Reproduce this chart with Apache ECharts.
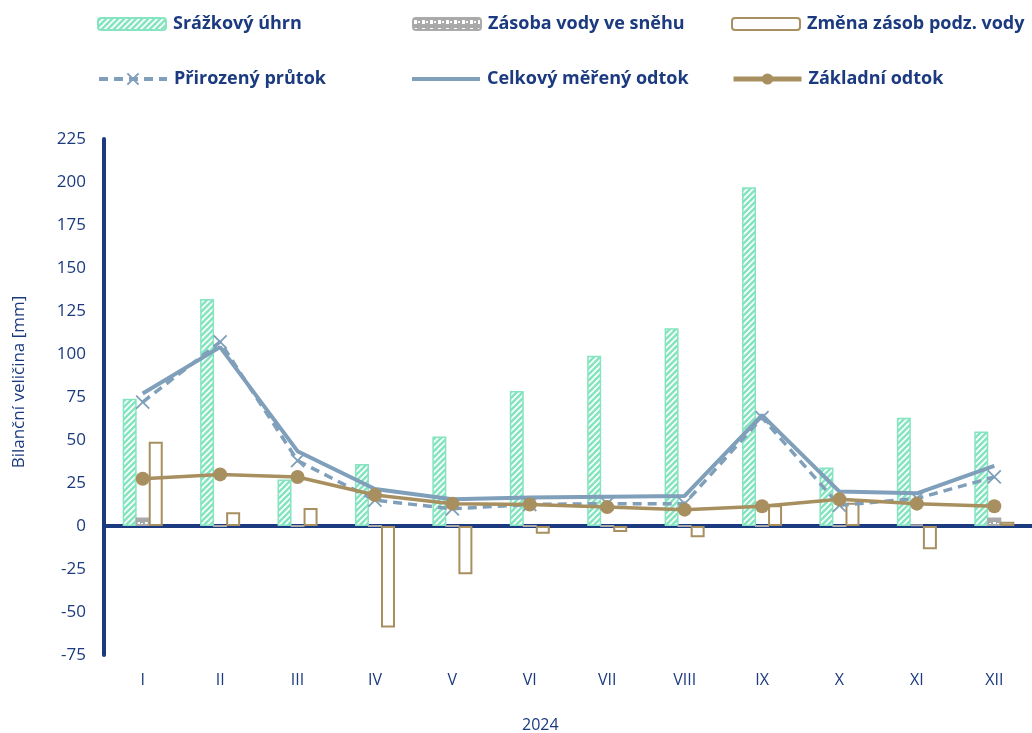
<!DOCTYPE html>
<html><head><meta charset="utf-8">
<script src="https://cdn.jsdelivr.net/npm/echarts@6/dist/echarts.min.js"></script>
<style>html,body{margin:0;padding:0;background:#fff}#c{width:1032px;height:733px}</style>
</head><body><div id="c"></div>
<script>
const categories = ['I','II','III','IV','V','VI','VII','VIII','IX','X','XI','XII'];
const precipitation = [74, 132, 27, 36, 52, 78.5, 99, 115, 197, 34, 63, 55];
const snowStorage = [5, 0, 0, 0, 0, 0, 0, 0, 0, 0, 1, 5];
const groundwaterChange = [49, 8, 10.5, -59, -28, -4.5, -3.5, -6.5, 12, 13.5, -13.5, 2.5];
const naturalFlow = [72, 107, 38, 15, 10, 12.5, 13, 13, 63, 12, 16, 28.5];
const totalRunoff = [77, 104, 43.5, 21.5, 15.5, 16.5, 17, 17.5, 64.5, 20, 19, 35];
const baseflow = [27.5, 30, 28.5, 18, 13, 12.5, 11, 9.5, 11.5, 15.5, 13, 11.5];
const yTicks = {min: -75, max: 225, interval: 25};

const NAVY = '#1b3a7f';
const MINT = '#86e4c0';
const BROWN = '#a88f5f';
const BLUE = '#7f9fba';
const FONT = '"Open Sans", "Noto Sans", sans-serif';

function hatch() {
  const c = document.createElement('canvas');
  c.width = 6; c.height = 6;
  const g = c.getContext('2d');
  g.fillStyle = MINT; g.fillRect(0,0,6,6);
  g.strokeStyle = '#ffffff'; g.lineWidth = 1.6;
  g.beginPath();
  g.moveTo(0,6); g.lineTo(6,0);
  g.moveTo(-3,3); g.lineTo(3,-3);
  g.moveTo(3,9); g.lineTo(9,3);
  g.stroke();
  return c;
}
function snowPat() {
  const c = document.createElement('canvas');
  c.width = 8; c.height = 8;
  const g = c.getContext('2d');
  g.fillStyle = '#a9a9a9'; g.fillRect(0,0,8,8);
  g.fillStyle = '#ffffff'; g.fillRect(1,2,3,4); g.fillRect(5,3,2,2);
  return c;
}
const hatchPattern = {image: hatch(), repeat: 'repeat'};
const snowPattern = {image: snowPat(), repeat: 'repeat'};

const chart = echarts.init(document.getElementById('c'), null, {renderer: 'canvas'});

function leg(item, left, top, h, lw) {
  const l = {
    data: [item], left: left, top: top, padding: 0, itemWidth: 68, itemHeight: h,
    selectedMode: false,
    textStyle: {color: NAVY, fontFamily: FONT, fontWeight: 'bold', fontSize: 18, padding: [0,0,0,2]}
  };
  if (lw) l.lineStyle = {width: lw};
  return l;
}
const xPath = 'path://M0,0L10,10M10,0L0,10';

chart.setOption({
  animation: false,
  textStyle: {fontFamily: FONT},
  legend: [
    leg('Srážkový úhrn', 97, 15, 12),
    leg('Zásoba vody ve sněhu', 412, 15, 12),
    leg('Změna zásob podz. vody', 731, 15, 12),
    leg('Přirozený průtok', 97, 70, 14, 4),
    leg({name: 'Celkový měřený odtok', icon: 'rect'}, 412, 70, 4),
    leg('Základní odtok', 731, 70, 14, 5)
  ],
  grid: {left: 104, top: 139, width: 929, height: 516, containLabel: false, outerBoundsMode: 'none'},
  xAxis: [
    {type: 'category', data: categories, axisLine: {onZero: true, lineStyle: {color: NAVY, width: 4}},
     axisTick: {show: false}, axisLabel: {show: false}},
    {type: 'category', data: categories, position: 'bottom', axisLine: {show: false, onZero: false},
     axisTick: {show: false}, axisLabel: {color: NAVY, fontSize: 16, margin: 17, fontFamily: FONT}}
  ],
  yAxis: {
    type: 'value', min: yTicks.min, max: yTicks.max, interval: yTicks.interval,
    axisLine: {show: true, onZero: false, lineStyle: {color: NAVY, width: 4}},
    axisTick: {show: false}, splitLine: {show: false},
    axisLabel: {color: NAVY, fontSize: 17, margin: 18, fontFamily: FONT}
  },
  graphic: [
    {type: 'text', left: 522, top: 717, style: {text: '2024', fill: NAVY, font: '16px ' + FONT}},
    {type: 'text', x: 19, y: 382, rotation: Math.PI / 2,
     style: {text: 'Bilanční veličina [mm]', fill: NAVY, font: '17px ' + FONT, align: 'center', verticalAlign: 'middle'}}
  ],
  series: [
    {name: 'Srážkový úhrn', type: 'bar', data: precipitation, barWidth: 14, barGap: '-7%',
     itemStyle: {color: hatchPattern, borderColor: MINT, borderWidth: 1.5}},
    {name: 'Zásoba vody ve sněhu', type: 'bar', data: snowStorage, barWidth: 14, barGap: '-7%',
     itemStyle: {color: snowPattern, borderColor: '#aaaaaa', borderWidth: 2}},
    {name: 'Změna zásob podz. vody', type: 'bar', data: groundwaterChange, barWidth: 14, barGap: '-7%',
     itemStyle: {color: '#ffffff', borderColor: BROWN, borderWidth: 2}},
    {name: 'Přirozený průtok', type: 'line', data: naturalFlow, symbol: xPath, symbolSize: 13,
     lineStyle: {color: BLUE, width: 3.5, type: [9, 6]},
     itemStyle: {color: 'none', borderColor: BLUE, borderWidth: 1.8}, z: 4},
    {name: 'Celkový měřený odtok', type: 'line', data: totalRunoff, symbol: 'none',
     lineStyle: {color: BLUE, width: 4}, itemStyle: {color: BLUE}, z: 3},
    {name: 'Základní odtok', type: 'line', data: baseflow, symbol: 'circle', symbolSize: 14,
     lineStyle: {color: BROWN, width: 3.5}, itemStyle: {color: BROWN}, z: 5}
  ]
});
</script></body></html>
